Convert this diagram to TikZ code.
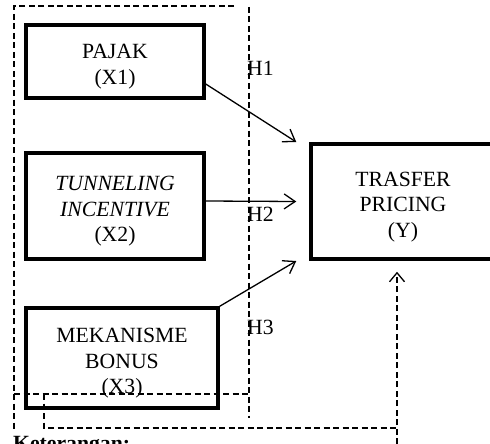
\documentclass[tikz,border=0pt]{standalone}
\usepackage{fontspec}
\setmainfont{Liberation Serif}
\usetikzlibrary{arrows.meta,calc}
\newcommand{\topgapx}{\rule{0pt}{25pt}}
\begin{document}
\begin{tikzpicture}[x=1pt,y=-1pt,
  varbox/.style={draw,line width=3.5pt,align=center,inner sep=0pt,
    font=\fontsize{21.7}{25.5}\selectfont},
  hlabel/.style={anchor=west,inner sep=0pt,font=\fontsize{21.7}{25.5}\selectfont},
  link/.style={line width=1.3pt,-{Straight Barb[length=11pt,width=15pt,line width=1.3pt]}},
  dashline/.style={line width=1.3pt,dash pattern=on 6pt off 3.5pt}]
\useasboundingbox (0,0) rectangle (490,444);
\node[varbox,minimum width=178,minimum height=73] (p) at (115,61.5) {\topgapx PAJAK\\(X1)};
\node[varbox,minimum width=178,minimum height=106] (t) at (115,206) {\topgapx\textit{TUNNELING}\\\textit{INCENTIVE}\\(X2)};
\node[varbox,minimum width=192,minimum height=100] (m) at (122,358) {\topgapx MEKANISME\\BONUS\\(X3)};
\node[varbox,minimum width=184,minimum height=115] (y) at (403,201.5) {\topgapx TRASFER\\PRICING\\(Y)};
\coordinate (t1) at ($(y.west)+(-13,-59.5)$);
\coordinate (t2) at ($(y.west)+(-13,0)$);
\coordinate (t3) at ($(y.west)+(-13,59.5)$);
\draw[link] ($(p.east)+(0,22.5)$) -- (t1);
\draw[link] ($(t.east)+(0,-5)$) -- (t2);
\draw[link] (m.north east) -- (t3);
\node[hlabel] (h1) at (247,68) {H1};
\node[hlabel] (h2) at (247,214) {H2};
\node[hlabel] (h3) at (247,327) {H3};
% outer dashed frame
\coordinate (ftl) at (14,6);
\coordinate (ftr) at (234,6);
\coordinate (frt) at (249,7);
\coordinate (frb) at (249,418);
\coordinate (flb) at (14,432);
\coordinate (fbr) at (249,394);
\coordinate (fbl) at (14,394);
\draw[dashline] (ftr) -- (ftl) -- (flb);
\draw[dashline] (frt) -- (frb);
\draw[dashline] (fbl) -- (fbr);
% moderating dashed path
\coordinate (d1) at (44,394);
\coordinate (d2) at (44,428);
\coordinate (d3) at (397,428);
\coordinate (d4) at (397,444);
\coordinate (ytip) at ($(y.south)+(-6,11)$);
\draw[dashline] (d1) -- (d2) -- (d3);
\draw[dashline,-{Straight Barb[length=9pt,width=15pt,line width=1.3pt]}] (d4) -- (ytip |- d4) -- (ytip);
\node[anchor=north west,inner sep=0pt,font=\fontsize{21.7}{25.5}\selectfont\bfseries] (ket) at (13,436) {Keterangan:};
\end{tikzpicture}
\end{document}
